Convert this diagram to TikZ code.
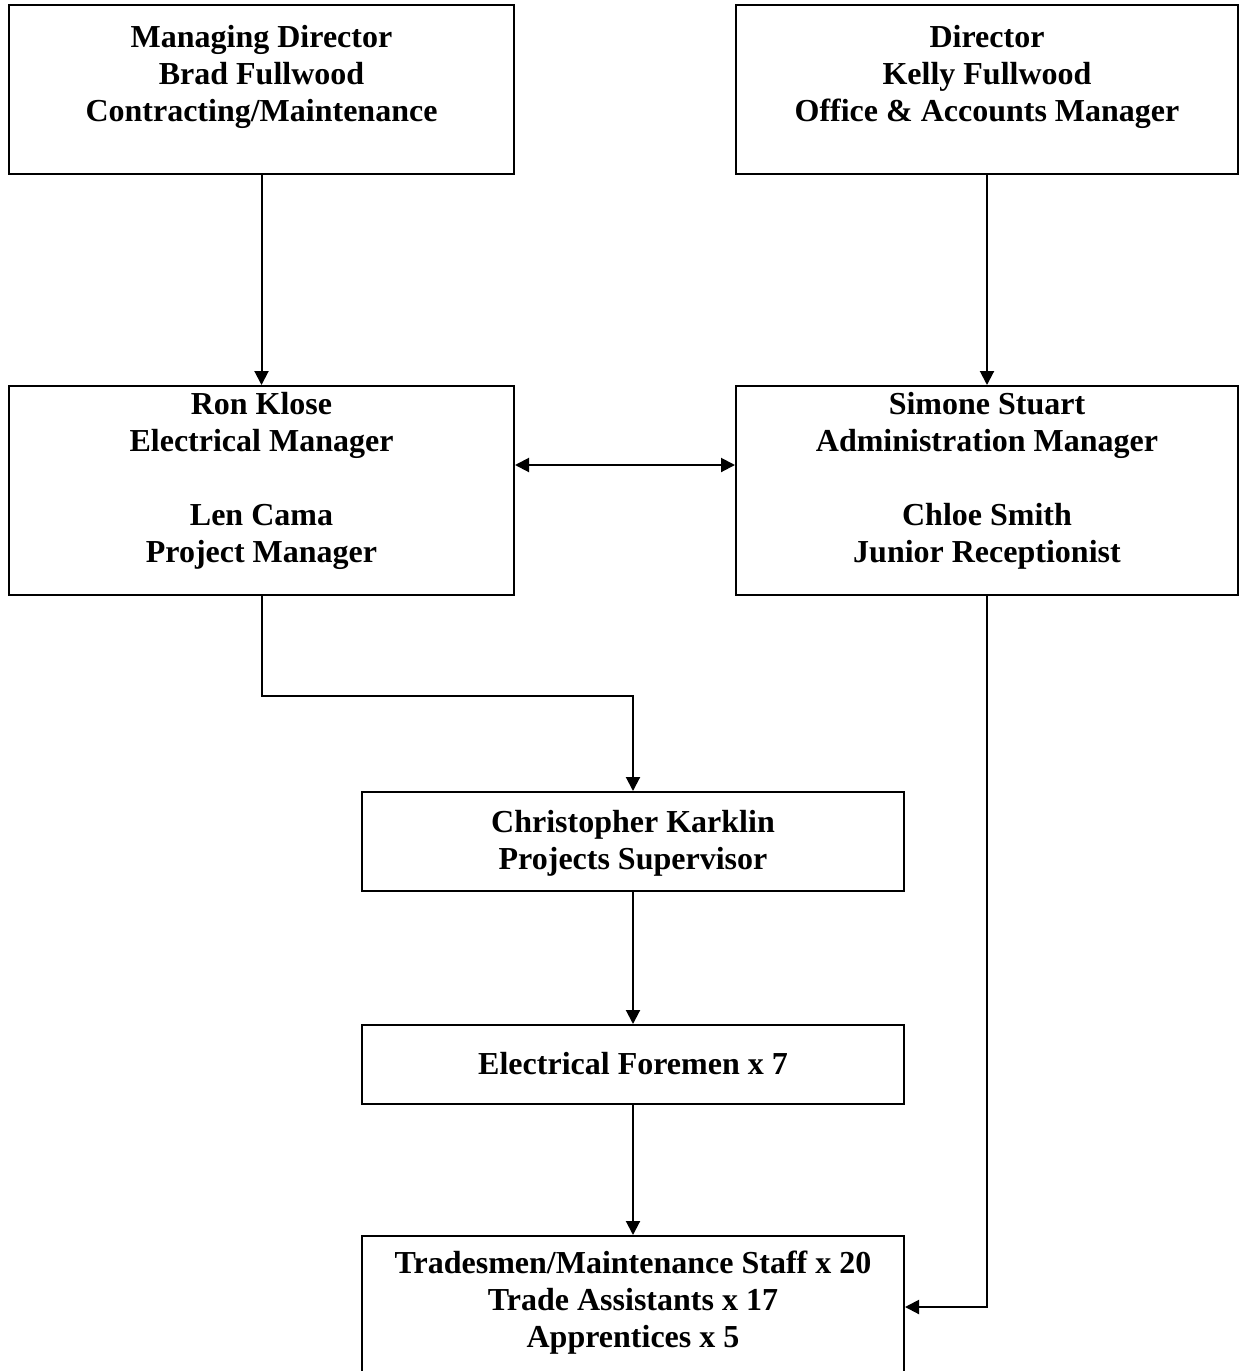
\documentclass[tikz,border=0pt]{standalone}
\usepackage{fontspec}
\setmainfont{Liberation Serif}
\usetikzlibrary{arrows.meta,calc}
\tikzset{
  box/.style={draw, line width=2pt, rectangle, inner sep=0pt},
  lbl/.style={anchor=base, align=center, inner sep=0pt, font=\fontsize{32}{37}\selectfont\bfseries},
  arr/.style={line width=2pt, -{Triangle[length=14pt,width=14pt]}},
  darr/.style={line width=2pt, {Triangle[length=14pt,width=14pt]}-{Triangle[length=14pt,width=14pt]}}
}
\begin{document}
\begin{tikzpicture}[x=1pt,y=-1pt]
\useasboundingbox (0,0) rectangle (1239,1371);
\clip (0,0) rectangle (1239,1371);
\fill[white] (0,0) rectangle (1239,1371);
\node[box, minimum width=505pt, minimum height=169pt] (md) at (261.5,89.5) {};
\node[box, minimum width=502pt, minimum height=169pt] (dr) at (987,89.5) {};
\node[box, minimum width=505pt, minimum height=209pt] (rk) at (261.5,490.5) {};
\node[box, minimum width=502pt, minimum height=209pt] (ss) at (987,490.5) {};
\node[box, minimum width=542pt, minimum height=99pt] (cc) at (633,841.5) {};
\node[box, minimum width=542pt, minimum height=79pt] (ef) at (633,1064.5) {};
\node[box, minimum width=542pt, minimum height=142pt] (tm) at (633,1307) {};

\node[lbl] (mdt) at ($(md.north)+(0,117)$) {Managing Director\\Brad Fullwood\\Contracting/Maintenance};
\node[lbl] (drt) at ($(dr.north)+(0,117)$) {Director\\Kelly Fullwood\\Office \& Accounts Manager};
\node[lbl] (rkt) at ($(rk.north)+(0,177)$) {Ron Klose\\Electrical Manager\\[37pt]Len Cama\\Project Manager};
\node[lbl] (sst) at ($(ss.north)+(0,177)$) {Simone Stuart\\Administration Manager\\[37pt]Chloe Smith\\Junior Receptionist};
\node[lbl] (cct) at ($(cc.north)+(0,78)$) {Christopher Karklin\\Projects Supervisor};
\node[lbl] (eft) at ($(ef.north)+(0,50)$) {Electrical Foremen x 7};
\node[lbl] (tmt) at ($(tm.north)+(0,112)$) {Tradesmen/Maintenance Staff x 20\\Trade Assistants x 17\\Apprentices x 5};

\draw[arr] (md.south) -- (rk.north);
\draw[arr] (dr.south) -- (ss.north);
\draw[darr] ($(rk.east)+(0,-25.5)$) -- ($(ss.west)+(0,-25.5)$);
\draw[arr] (rk.south) -- ++(0,100) -| (cc.north);
\draw[arr] (cc.south) -- (ef.north);
\draw[arr] (ef.south) -- (tm.north);
\draw[arr] (ss.south) |- (tm.east);
\end{tikzpicture}
\end{document}
